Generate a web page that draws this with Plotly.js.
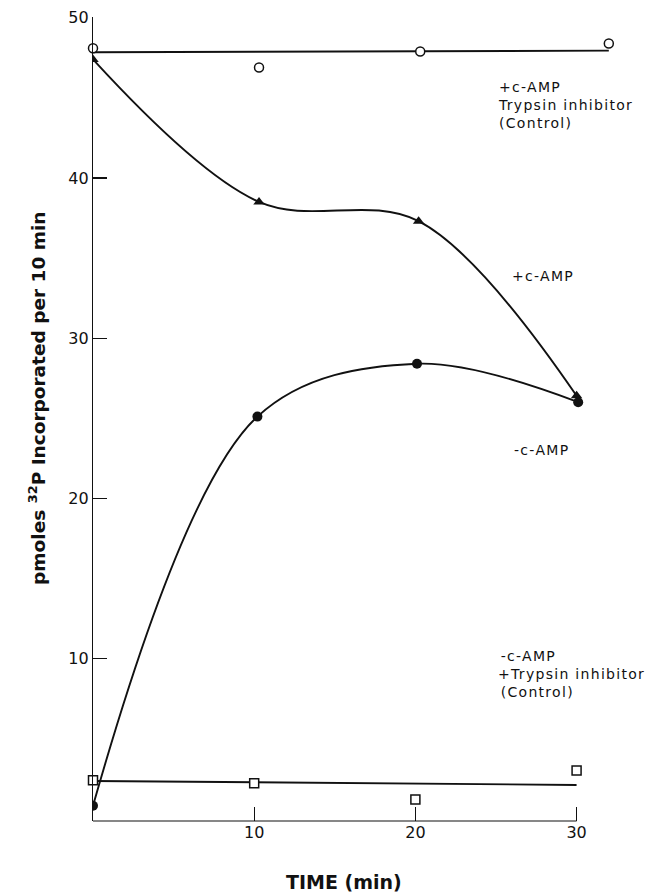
<!DOCTYPE html>
<html>
<head>
<meta charset="utf-8">
<script src="https://cdn.plot.ly/plotly-3.0.1.min.js"></script>
<style>
html,body{margin:0;padding:0;background:#fff;}
#chart{width:653px;height:895px;}
</style>
</head>
<body>
<div id="chart"></div>
<script>
// ---- data ----
// +c-AMP + Trypsin inhibitor (Control): open circles
var ctrlPlusTime = [0, 10.3, 20.3, 32];
var ctrlPlusVal  = [48.1, 46.9, 47.9, 48.4];
var ctrlPlusFitTime = [0, 32];
var ctrlPlusFitVal  = [47.85, 47.95];

// +c-AMP: filled triangles
var plusTime = [0, 10.3, 20.2, 30];
var plusVal  = [47.4, 38.5, 37.3, 26.4];

// -c-AMP: filled circles
var minusTime = [0, 10.2, 20.1, 30.1];
var minusVal  = [0.8, 25.1, 28.4, 26.0];

// -c-AMP + Trypsin inhibitor (Control): open squares
var ctrlMinusTime = [0, 10, 20, 30];
var ctrlMinusVal  = [2.4, 2.2, 1.2, 3.0];
var ctrlMinusFitTime = [0, 30];
var ctrlMinusFitVal  = [2.35, 2.1];

var xTicks = [10, 20, 30];
var yTicks = [10, 20, 30, 40, 50];

// labels
var labelTexts = [
  {x: 25.0, y: 46.3, lines: ['+c-AMP', 'Trypsin inhibitor', '(Control)']},
  {x: 25.9, y: 34.5, lines: ['+c-AMP']},
  {x: 26.0, y: 23.65, lines: ['-c-AMP']},
  {x: 25.0, y: 10.8, lines: ['&#8202;-c-AMP', '+Trypsin inhibitor', '&#8202;(Control)']}
];
var xTitle = 'TIME (min)';
var yTitle = 'pmoles <sup>32</sup>P Incorporated per 10 min';

var ink = '#111';
var fontFam = 'DejaVu Sans, sans-serif';

var traces = [
  {x: ctrlPlusFitTime, y: ctrlPlusFitVal, mode: 'lines', line: {color: ink, width: 1.9}, hoverinfo: 'skip'},
  {x: ctrlMinusFitTime, y: ctrlMinusFitVal, mode: 'lines', line: {color: ink, width: 1.9}, hoverinfo: 'skip'},
  {x: plusTime, y: plusVal, mode: 'lines+markers', line: {color: ink, width: 1.9, shape: 'spline', smoothing: 1},
   marker: {symbol: 'triangle-up', size: 10, color: ink}},
  {x: minusTime, y: minusVal, mode: 'lines+markers', line: {color: ink, width: 1.9, shape: 'spline', smoothing: 1},
   marker: {symbol: 'circle', size: 10, color: ink}},
  {x: ctrlPlusTime, y: ctrlPlusVal, mode: 'markers', cliponaxis: false,
   marker: {symbol: 'circle', size: 9, color: '#fff', line: {color: ink, width: 1.5}}},
  {x: ctrlMinusTime, y: ctrlMinusVal, mode: 'markers', cliponaxis: false,
   marker: {symbol: 'square', size: 9, color: '#fff', line: {color: ink, width: 1.5}}}
];

var annotations = labelTexts.map(function (l) {
  return {
    x: l.x, y: l.y, xref: 'x', yref: 'y', xanchor: 'left', yanchor: 'top',
    text: '<span style="letter-spacing:1.3px">' + l.lines.join('<br>') + '</span>',
    showarrow: false, align: 'left',
    font: {family: fontFam, size: 14, color: ink}
  };
});
annotations.push({
  x: 0.465, y: 0, xref: 'paper', yref: 'paper', xanchor: 'center', yanchor: 'top', yshift: -48,
  text: '<b>' + xTitle + '</b>', showarrow: false,
  font: {family: fontFam, size: 19, color: ink}
});
annotations.push({
  x: 0, y: 0.525, xref: 'paper', yref: 'paper', xanchor: 'center', yanchor: 'middle', xshift: -56,
  textangle: -90,
  text: '<b>' + yTitle + '</b>', showarrow: false,
  font: {family: fontFam, size: 18.5, color: ink}
});

var layout = {
  width: 653, height: 895,
  margin: {l: 93, r: 20, t: 17, b: 74},
  paper_bgcolor: '#fff', plot_bgcolor: '#fff',
  showlegend: false,
  font: {family: fontFam, color: ink},
  xaxis: {
    range: [0, 33.5], showgrid: false, zeroline: false, showline: false,
    ticks: 'inside', ticklen: 14, tickwidth: 1.2, tickcolor: ink,
    tickvals: xTicks, ticktext: xTicks.map(String),
    tickfont: {size: 16, family: fontFam, color: ink}
  },
  yaxis: {
    range: [-0.15, 50.05], showgrid: false, zeroline: false, showline: true,
    linecolor: ink, linewidth: 1.2,
    ticks: 'inside', ticklen: 14, tickwidth: 1.2, tickcolor: ink,
    tickvals: yTicks, ticktext: yTicks.map(String),
    tickfont: {size: 16, family: fontFam, color: ink}
  },
  shapes: [
    {type: 'line', xref: 'x', yref: 'paper', x0: 0, x1: xTicks[xTicks.length - 1], y0: 0, y1: 0,
     line: {color: ink, width: 1.2}}
  ],
  annotations: annotations
};

Plotly.newPlot('chart', traces, layout, {staticPlot: true, displayModeBar: false});
</script>
</body>
</html>
